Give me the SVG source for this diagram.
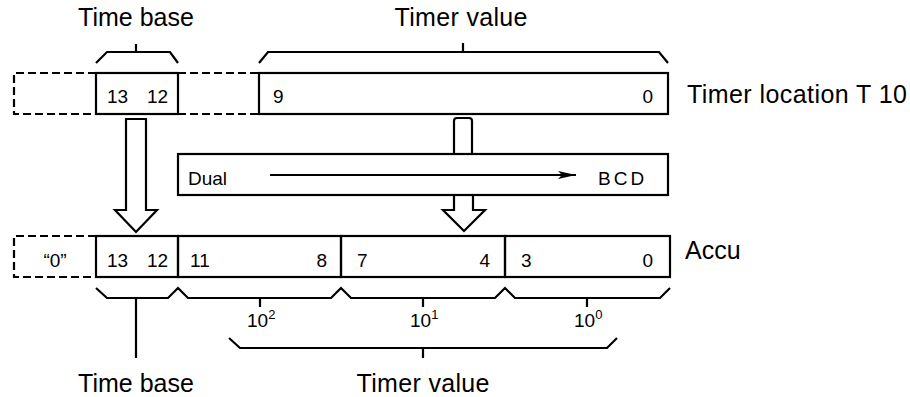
<svg xmlns="http://www.w3.org/2000/svg" width="910" height="397" viewBox="0 0 910 397">
<style>
  .box{fill:none;stroke:#000;stroke-width:2.2}
  .dash{fill:none;stroke:#000;stroke-width:2.2;stroke-dasharray:8 4}
  .ln{fill:none;stroke:#000;stroke-width:2.2;stroke-linejoin:miter}
  .big{font-family:"Liberation Sans",Arial,sans-serif;font-size:25px;fill:#000}
  .num{font-family:"Liberation Sans",Arial,sans-serif;font-size:19px;fill:#000}
  .sup{font-size:13px}
</style>
<defs>
  <marker id="ah" markerWidth="18" markerHeight="8" refX="18" refY="4" orient="auto" markerUnits="userSpaceOnUse">
    <path d="M0,0 L18,4 L0,8 L4,4 Z" fill="#000"/>
  </marker>
</defs>
<rect width="910" height="397" fill="#fff"/>

<g id="top-labels">
  <text class="big" x="136" y="26" text-anchor="middle">Time base</text>
  <text class="big" x="461" y="26" text-anchor="middle" textLength="133">Timer value</text>
</g>

<g id="timer-location">
  <path class="dash" d="M96,73 H14 V114 H96"/>
  <path class="dash" d="M178,73 H259 M178,114 H259"/>
  <rect id="tl-timebase" class="box" x="96" y="73" width="82" height="41"/>
  <text class="num" x="107" y="103">13</text>
  <text class="num" x="147" y="103">12</text>
  <rect id="tl-value" class="box" x="259" y="73" width="409" height="41"/>
  <text class="num" x="273" y="103">9</text>
  <text class="num" x="653" y="103" text-anchor="end">0</text>
  <text class="big" x="687" y="103" textLength="220">Timer location T 10</text>
</g>

<g id="converter">
  <rect class="box" x="178" y="154" width="490" height="41"/>
  <text class="num" x="188" y="185">Dual</text>
  <text class="num" x="598" y="185" letter-spacing="3">BCD</text>
</g>

<g id="accu">
  <path class="dash" d="M96,236 H14 V277 H96"/>
  <text class="num" x="55" y="267" text-anchor="middle">“0”</text>
  <rect class="box" x="96" y="236" width="82" height="41"/>
  <text class="num" x="107" y="267">13</text>
  <text class="num" x="147" y="267">12</text>
  <rect class="box" x="178" y="236" width="163" height="41"/>
  <text class="num" x="190" y="267">11</text>
  <text class="num" x="327" y="267" text-anchor="end">8</text>
  <rect class="box" x="341" y="236" width="164" height="41"/>
  <text class="num" x="357" y="267">7</text>
  <text class="num" x="490" y="267" text-anchor="end">4</text>
  <rect class="box" x="505" y="236" width="165" height="41"/>
  <text class="num" x="521" y="267">3</text>
  <text class="num" x="653" y="267" text-anchor="end">0</text>
  <text class="big" x="685" y="259">Accu</text>
</g>

<g id="braces">
  <path class="ln" d="M96,63 L107,52 H170 L178,63 M136,44 V52"/>
  <path class="ln" d="M259,63 L268,52 H659 L668,63 M463,43 V52"/>
  <path class="ln" d="M96,288 L107,298 H168 L178,288 L188,298 H331 L341,288 L351,298 H495 L505,288 L515,298 H660 L670,288"/>
  <path class="ln" d="M136,298 V358 M260,298 V307 M423,298 V307 M587,298 V307"/>
  <path class="ln" d="M229,338 L240,348 H607 L617,338 M423,348 V358"/>
</g>

<g id="connectors">
  <path class="box" d="M126,210 V119 H146 V210 H157 L136,232 L115,210 Z" fill="#fff"/>
  <path class="box" d="M454,154 V121 Q454,118 457,118 H469 Q472,118 472,121 V154"/>
  <path class="box" d="M454,195 V210 H443 L464,231 L485,210 H473 V195"/>
  <line x1="270" y1="175" x2="576" y2="175" stroke="#000" stroke-width="2" marker-end="url(#ah)"/>
</g>

<g id="bottom-labels">
  <text class="num" x="247" y="327">10<tspan class="sup" dy="-8">2</tspan></text>
  <text class="num" x="410" y="327">10<tspan class="sup" dy="-8">1</tspan></text>
  <text class="num" x="574" y="327">10<tspan class="sup" dy="-8">0</tspan></text>
  <text class="big" x="136" y="392" text-anchor="middle">Time base</text>
  <text class="big" x="423" y="392" text-anchor="middle" textLength="133">Timer value</text>
</g>
</svg>
